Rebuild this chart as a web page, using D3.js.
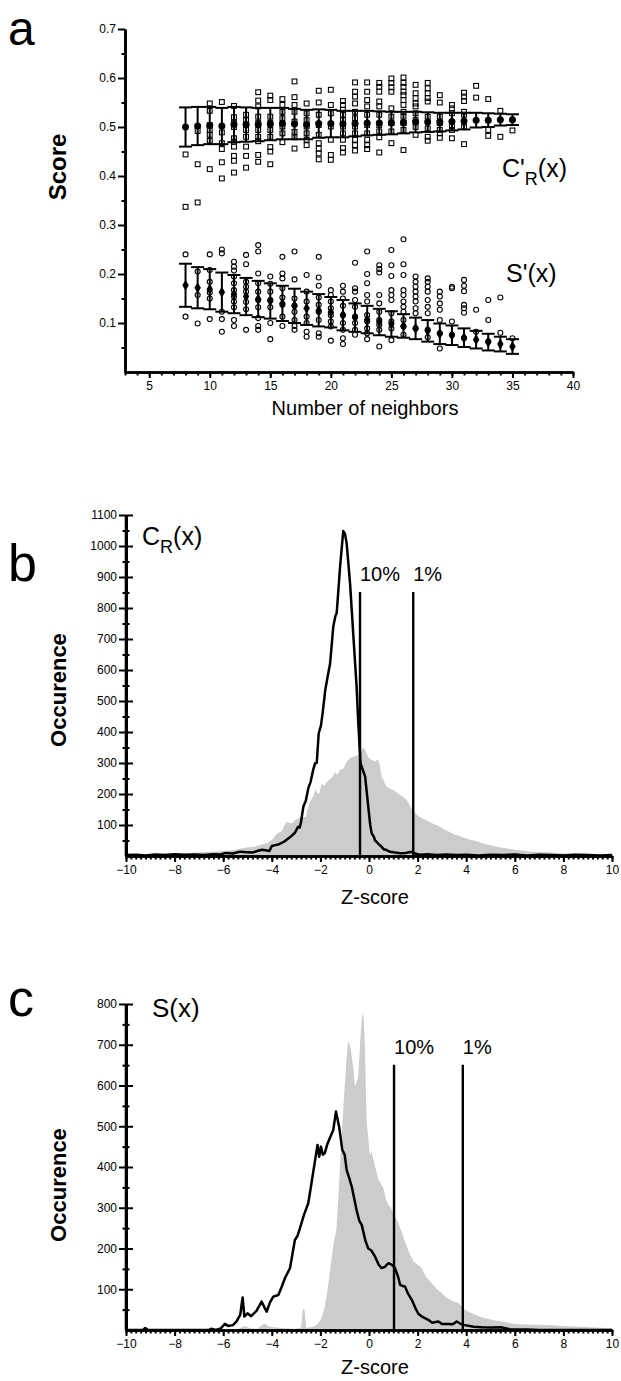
<!DOCTYPE html>
<html>
<head>
<meta charset="utf-8">
<script src="https://cdn.jsdelivr.net/npm/d3@7"></script>
<style>
  body { margin: 0; background: #fff; }
  svg { display: block; font-family: Arial, "Liberation Sans", sans-serif; }
</style>
</head>
<body>
<svg id="fig" width="621" height="1381"></svg>
<script>
// ---- panel a : scores vs number of neighbors
const NEIGHBORS = [8, 9, 10, 11, 12, 13, 14, 15, 16, 17, 18, 19, 20, 21, 22, 23, 24, 25, 26, 27, 28, 29, 30, 31, 32, 33, 34, 35]
const C_MEAN = [0.500, 0.502, 0.503, 0.502, 0.505, 0.505, 0.505, 0.506, 0.507, 0.506, 0.505, 0.507, 0.507, 0.506,
  0.507, 0.508, 0.508, 0.508, 0.509, 0.510, 0.510, 0.510, 0.511, 0.512, 0.514, 0.514, 0.515, 0.515]
const C_SD = [0.040, 0.039, 0.038, 0.037, 0.036, 0.035, 0.034, 0.033, 0.032, 0.031, 0.030, 0.029, 0.028, 0.027,
  0.026, 0.025, 0.024, 0.023, 0.022, 0.021, 0.020, 0.019, 0.018, 0.017, 0.015, 0.014, 0.012, 0.011]
const S_MEAN = [0.177, 0.172, 0.169, 0.163, 0.159, 0.154, 0.149, 0.145, 0.140, 0.135, 0.130, 0.126, 0.122, 0.116,
  0.111, 0.107, 0.102, 0.098, 0.094, 0.089, 0.084, 0.078, 0.075, 0.070, 0.066, 0.061, 0.057, 0.052]
const S_SD = [0.044, 0.042, 0.041, 0.040, 0.039, 0.038, 0.037, 0.036, 0.036, 0.035, 0.034, 0.033, 0.031, 0.031,
  0.029, 0.028, 0.027, 0.026, 0.024, 0.022, 0.022, 0.021, 0.020, 0.019, 0.018, 0.017, 0.015, 0.015]
// individual scores, one list per neighbor count
const C_POINTS = [
  [0.444, 0.337],
  [0.492, 0.424, 0.346],
  [0.548, 0.533, 0.504, 0.494, 0.484, 0.472, 0.414],
  [0.551, 0.489, 0.467, 0.455, 0.428, 0.395],
  [0.543, 0.52, 0.508, 0.5, 0.477, 0.47, 0.46, 0.441, 0.431, 0.407],
  [0.525, 0.514, 0.504, 0.494, 0.48, 0.46, 0.441, 0.417],
  [0.571, 0.554, 0.542, 0.521, 0.508, 0.494, 0.48, 0.471, 0.443, 0.429],
  [0.564, 0.555, 0.521, 0.508, 0.494, 0.48, 0.459, 0.45, 0.424],
  [0.557, 0.545, 0.531, 0.518, 0.501, 0.487, 0.469],
  [0.593, 0.561, 0.545, 0.531, 0.511, 0.49, 0.479, 0.456],
  [0.548, 0.528, 0.514, 0.501, 0.487, 0.474, 0.463],
  [0.574, 0.55, 0.525, 0.504, 0.484, 0.467, 0.456, 0.446, 0.434],
  [0.576, 0.545, 0.528, 0.501, 0.474, 0.443, 0.433],
  [0.553, 0.545, 0.535, 0.525, 0.514, 0.501, 0.487, 0.474, 0.457, 0.448],
  [0.591, 0.572, 0.562, 0.548, 0.531, 0.518, 0.501, 0.487, 0.474, 0.463, 0.452],
  [0.591, 0.572, 0.555, 0.542, 0.525, 0.504, 0.487, 0.474, 0.463, 0.455],
  [0.59, 0.582, 0.572, 0.552, 0.542, 0.525, 0.504, 0.491, 0.479, 0.448],
  [0.599, 0.59, 0.581, 0.572, 0.538, 0.521, 0.508, 0.491, 0.467],
  [0.601, 0.59, 0.582, 0.572, 0.565, 0.555, 0.545, 0.531, 0.521, 0.508, 0.494, 0.453],
  [0.586, 0.569, 0.559, 0.548, 0.542, 0.528, 0.514, 0.5, 0.484],
  [0.59, 0.579, 0.569, 0.559, 0.552, 0.521, 0.497, 0.48, 0.472],
  [0.565, 0.55, 0.521, 0.508, 0.494, 0.487, 0.478],
  [0.545, 0.538, 0.528, 0.502, 0.494, 0.477],
  [0.57, 0.562, 0.553, 0.531, 0.525, 0.5, 0.465],
  [0.584, 0.56],
  [0.557, 0.494, 0.482],
  [0.533, 0.48],
  [0.493],
]
const S_POINTS = [
  [0.24, 0.113],
  [0.205, 0.157, 0.099],
  [0.24, 0.208, 0.184, 0.162, 0.15, 0.108],
  [0.25, 0.242, 0.123, 0.108, 0.082],
  [0.225, 0.215, 0.207, 0.195, 0.181, 0.167, 0.154, 0.144, 0.132, 0.106, 0.094],
  [0.239, 0.22, 0.184, 0.174, 0.164, 0.143, 0.128, 0.086],
  [0.259, 0.246, 0.201, 0.181, 0.164, 0.147, 0.132, 0.11, 0.094, 0.086],
  [0.195, 0.18, 0.164, 0.147, 0.132, 0.1, 0.067],
  [0.235, 0.201, 0.191, 0.171, 0.152, 0.137, 0.113, 0.094],
  [0.246, 0.189, 0.15, 0.135, 0.123, 0.106, 0.094, 0.086],
  [0.198, 0.164, 0.144, 0.113, 0.1, 0.082, 0.072],
  [0.235, 0.193, 0.176, 0.152, 0.137, 0.123, 0.106, 0.079, 0.072],
  [0.167, 0.157, 0.144, 0.13, 0.116, 0.103, 0.093, 0.064],
  [0.176, 0.164, 0.15, 0.135, 0.116, 0.1, 0.086, 0.069, 0.057],
  [0.223, 0.171, 0.164, 0.147, 0.133, 0.113, 0.1, 0.086, 0.076],
  [0.246, 0.2, 0.181, 0.157, 0.144, 0.116, 0.103, 0.089, 0.079, 0.067],
  [0.218, 0.21, 0.203, 0.157, 0.14, 0.123, 0.106, 0.096, 0.086, 0.052],
  [0.249, 0.218, 0.196, 0.167, 0.157, 0.147, 0.12, 0.103, 0.089, 0.065],
  [0.271, 0.22, 0.198, 0.167, 0.157, 0.144, 0.133, 0.123, 0.106, 0.093, 0.076],
  [0.195, 0.184, 0.174, 0.164, 0.154, 0.144, 0.13, 0.12, 0.089],
  [0.191, 0.184, 0.174, 0.164, 0.147, 0.133, 0.12, 0.086, 0.071],
  [0.164, 0.154, 0.14, 0.127, 0.106, 0.079, 0.048],
  [0.174, 0.171, 0.103, 0.076],
  [0.188, 0.176, 0.165, 0.137, 0.13, 0.121, 0.069],
  [0.127, 0.082],
  [0.147, 0.106, 0.062],
  [0.152, 0.08],
  [0.069],
]
const A_X_TICKS = [5, 10, 15, 20, 25, 30, 35, 40]
const A_Y_TICKS = [0.1, 0.2, 0.3, 0.4, 0.5, 0.6, 0.7]

// ---- panel b : C_R(x) z-score histogram, [z, count]
const CR_REAL = [[-10, 3], [-9.6, 4], [-9.2, 2], [-8.8, 5], [-8.4, 3], [-8, 6], [-7.6, 4], [-7.2, 5], [-6.8, 3], [-6.4, 6],
  [-6.1, 5], [-5.9, 10], [-5.6, 8], [-5.3, 14], [-5.0, 12], [-4.8, 11], [-4.6, 16], [-4.4, 20], [-4.2, 18], [-4.1, 16],
  [-4.0, 32], [-3.85, 35], [-3.7, 38], [-3.5, 46], [-3.35, 55], [-3.2, 64], [-3.05, 75], [-2.92, 94], [-2.85, 92],
  [-2.8, 108], [-2.7, 160], [-2.6, 178], [-2.5, 218], [-2.4, 240], [-2.3, 277], [-2.22, 299], [-2.15, 300], [-2.07, 396],
  [-1.98, 420], [-1.91, 460], [-1.8, 535], [-1.7, 580], [-1.6, 621], [-1.47, 740], [-1.38, 775], [-1.33, 783],
  [-1.19, 933], [-1.06, 1048], [-0.99, 1040], [-0.92, 1009], [-0.78, 880], [-0.65, 718], [-0.51, 546], [-0.44, 428],
  [-0.35, 300], [-0.3, 288], [-0.16, 256], [-0.03, 159], [0.05, 100], [0.11, 73], [0.2, 62], [0.25, 50], [0.31, 46],
  [0.4, 38], [0.52, 30], [0.6, 22], [0.7, 20], [0.86, 14], [1.0, 12], [1.28, 9], [1.5, 10], [1.76, 14], [1.9, 8],
  [2.07, 4], [2.4, 6], [2.8, 3], [3.2, 5], [3.6, 3], [4.0, 4], [4.5, 2], [5, 4], [5.5, 3], [6, 5], [6.5, 2], [7, 4],
  [7.5, 3], [8, 2], [8.5, 4], [9, 3], [9.5, 2], [10, 3]]
const CR_RANDOM = [[-10, 6], [-9.5, 7], [-9, 5], [-8.5, 8], [-8, 9], [-7.5, 8], [-7, 12], [-6.5, 13], [-6, 16], [-5.5, 20],
  [-5, 28], [-4.7, 30], [-4.5, 35], [-4.2, 42], [-4.0, 52], [-3.8, 72], [-3.6, 80], [-3.4, 110], [-3.2, 105], [-3.0, 118],
  [-2.8, 125], [-2.6, 127], [-2.5, 160], [-2.4, 180], [-2.3, 191], [-2.2, 215], [-2.1, 200], [-2.05, 202], [-1.95, 235],
  [-1.85, 225], [-1.78, 234], [-1.65, 245], [-1.5, 256], [-1.4, 270], [-1.3, 262], [-1.2, 277], [-1.05, 282], [-0.95, 300],
  [-0.86, 310], [-0.75, 318], [-0.65, 320], [-0.55, 322], [-0.44, 326], [-0.35, 340], [-0.23, 350], [-0.15, 340],
  [-0.1, 331], [0.0, 315], [0.11, 310], [0.25, 305], [0.38, 312], [0.45, 290], [0.52, 256], [0.62, 240], [0.72, 224],
  [0.85, 218], [1.0, 213], [1.15, 205], [1.28, 197], [1.4, 190], [1.56, 181], [1.7, 160], [1.8, 148], [1.95, 135],
  [2.07, 127], [2.3, 118], [2.62, 105], [2.9, 95], [3.1, 85], [3.3, 78], [3.5, 70], [3.7, 65], [3.98, 57], [4.2, 52],
  [4.4, 48], [4.67, 41], [4.9, 36], [5.1, 32], [5.36, 28], [5.7, 24], [6.0, 20], [6.4, 17], [6.7, 14], [7.0, 13],
  [7.5, 11], [8.1, 9], [8.5, 8], [9, 7], [9.5, 6], [10, 5]]
const B_CUTS = [{ label: '10%', z: -0.37, top: 852 }, { label: '1%', z: 1.82, top: 852 }]
const B_Y_TICKS = [100, 200, 300, 400, 500, 600, 700, 800, 900, 1000, 1100]

// ---- panel c : S(x) z-score histogram, [z, count]
const S_REAL = [[-10, 0], [-9.3, 0], [-9.21, 5], [-9.1, 0], [-6.6, 0], [-6.5, 3], [-6.3, 0], [-6.1, 4], [-5.93, 15],
  [-5.8, 10], [-5.6, 12], [-5.45, 21], [-5.3, 37], [-5.2, 80], [-5.13, 33], [-5.0, 41], [-4.85, 34], [-4.63, 47],
  [-4.42, 70], [-4.3, 55], [-4.21, 45], [-4.08, 67], [-3.94, 82], [-3.73, 86], [-3.6, 105], [-3.46, 127], [-3.25, 152],
  [-3.05, 221], [-2.95, 230], [-2.84, 250], [-2.68, 282], [-2.5, 311], [-2.4, 348], [-2.26, 401], [-2.12, 454],
  [-2.05, 425], [-1.98, 450], [-1.9, 430], [-1.82, 434], [-1.72, 455], [-1.61, 471], [-1.47, 491], [-1.36, 536],
  [-1.23, 499], [-1.1, 442], [-1.0, 430], [-0.92, 393], [-0.8, 370], [-0.71, 352], [-0.6, 320], [-0.51, 294],
  [-0.4, 268], [-0.3, 258], [-0.15, 220], [-0.03, 200], [0.1, 195], [0.25, 180], [0.4, 160], [0.52, 152], [0.65, 155],
  [0.8, 164], [0.95, 160], [1.07, 152], [1.2, 130], [1.28, 111], [1.38, 108], [1.48, 107], [1.6, 90], [1.76, 74],
  [1.9, 55], [2.03, 40], [2.2, 32], [2.44, 25], [2.6, 18], [2.85, 21], [3.0, 15], [3.26, 15], [3.45, 14], [3.61, 21],
  [3.8, 14], [3.95, 12], [4.3, 8], [4.64, 6.5], [5.0, 6], [5.46, 6.5], [5.8, 2], [6.5, 1], [7, 0], [10, 0]]
const S_RANDOM = [[-10, 0], [-5.5, 0], [-5.3, 5], [-5.13, 10], [-4.9, 5], [-4.6, 3], [-4.4, 12], [-4.3, 16], [-4.1, 8],
  [-3.5, 4], [-3.0, 3], [-2.8, 6], [-2.72, 53], [-2.65, 50], [-2.58, 5], [-2.3, 8], [-2.1, 15], [-1.95, 30], [-1.82, 57],
  [-1.7, 100], [-1.55, 172], [-1.45, 215], [-1.34, 246], [-1.25, 340], [-1.16, 434], [-1.08, 520], [-1.0, 598],
  [-0.93, 660], [-0.86, 709], [-0.79, 700], [-0.71, 672], [-0.64, 640], [-0.58, 598], [-0.5, 610], [-0.44, 623],
  [-0.37, 700], [-0.3, 762], [-0.23, 781], [-0.17, 700], [-0.1, 516], [0.04, 426], [0.1, 440], [0.18, 418], [0.3, 390],
  [0.38, 369], [0.48, 360], [0.59, 348], [0.7, 320], [0.8, 307], [0.9, 300], [1.0, 287], [1.1, 275], [1.21, 262],
  [1.35, 240], [1.48, 217], [1.65, 190], [1.83, 168], [2.0, 160], [2.17, 152], [2.35, 130], [2.58, 115], [2.8, 100],
  [3.0, 90], [3.13, 82], [3.4, 72], [3.68, 66], [3.95, 50], [4.23, 41], [4.6, 32], [5.05, 25], [5.5, 20], [6.01, 15],
  [6.7, 13], [7.38, 12], [8, 10], [8.75, 8], [9.3, 6], [10, 4]]
const C_CUTS = [{ label: '10%', z: 1.03, top: 651 }, { label: '1%', z: 3.86, top: 651 }]
const C_Y_TICKS = [100, 200, 300, 400, 500, 600, 700, 800]
const Z_TICKS = [-10, -8, -6, -4, -2, 0, 2, 4, 6, 8, 10]

const svg = d3.select('#fig')

const xA = d3.scaleLinear().domain([3, 40]).range([125, 573])
const yA = d3.scaleLinear().domain([0, 0.7]).range([372, 29])
const xZ = d3.scaleLinear().domain([-10, 10]).range([126, 612])
const yB = d3.scaleLinear().domain([0, 1100]).range([856, 515])
const yC = d3.scaleLinear().domain([0, 800]).range([1330, 1004])

const styleAxis = g => {
  g.select('.domain').attr('stroke-width', 2.6).attr('stroke', '#000')
  g.selectAll('.tick line').attr('stroke-width', 2)
  g.selectAll('.tick text').attr('font-size', 12).attr('fill', '#000').attr('font-family', 'Arial, "Liberation Sans", sans-serif')
}
const minorAxis = (axis, values, size) =>
  axis.tickValues(values).tickSize(size).tickSizeOuter(0).tickFormat('')

const label = (x, y, txt, size, opts = {}) =>
  svg.append('text').attr('x', x).attr('y', y).attr('font-size', size)
    .attr('font-weight', opts.bold ? 'bold' : null)
    .attr('text-anchor', opts.anchor || 'start')
    .attr('transform', opts.rotate ? `rotate(-90 ${x} ${y})` : null)
    .text(txt)

// curve name with optional prime and subscript
const curveLabel = (x, y, main, prime, sub, size) => {
  const t = svg.append('text').attr('x', x).attr('y', y).attr('font-size', size)
  t.append('tspan').text(main + (prime ? "'" : ''))
  if (sub) t.append('tspan').attr('font-size', size * 0.72).attr('dy', size * 0.3).text(sub)
  t.append('tspan').attr('dy', sub ? -size * 0.3 : 0).text('(x)')
}

// ================= panel a
const gA = svg.append('g')
const colA = NEIGHBORS.map((n, i) => ({ n, cm: C_MEAN[i], cs: C_SD[i], sm: S_MEAN[i], ss: S_SD[i], cp: C_POINTS[i], sp: S_POINTS[i] }))

gA.selectAll('rect.cpt')
  .data(colA.flatMap(d => d.cp.map(v => ({ n: d.n, v }))))
  .join('rect')
  .attr('x', d => xA(d.n) - 2.4).attr('y', d => yA(d.v) - 2.4)
  .attr('width', 4.8).attr('height', 4.8)
  .attr('fill', 'none').attr('stroke', '#000').attr('stroke-width', 1.1)

gA.selectAll('circle.spt')
  .data(colA.flatMap(d => d.sp.map(v => ({ n: d.n, v }))))
  .join('circle')
  .attr('cx', d => xA(d.n)).attr('cy', d => yA(d.v)).attr('r', 2.5)
  .attr('fill', 'none').attr('stroke', '#000').attr('stroke-width', 1.1)

const errorBars = (mean, sd) => {
  const g = gA.append('g').attr('stroke', '#000').attr('stroke-width', 2)
  g.selectAll('line.v').data(colA).join('line')
    .attr('x1', d => xA(d.n)).attr('x2', d => xA(d.n))
    .attr('y1', d => yA(d[mean] + d[sd])).attr('y2', d => yA(d[mean] - d[sd]))
  for (const sign of [1, -1]) {
    g.selectAll(null).data(colA).join('line')
      .attr('x1', d => xA(d.n) - 6.5).attr('x2', d => xA(d.n) + 6.5)
      .attr('y1', d => yA(d[mean] + sign * d[sd])).attr('y2', d => yA(d[mean] + sign * d[sd]))
  }
}
errorBars('cm', 'cs')
errorBars('sm', 'ss')

gA.selectAll('circle.cm').data(colA).join('circle')
  .attr('cx', d => xA(d.n)).attr('cy', d => yA(d.cm)).attr('r', 3.5).attr('fill', '#000')
gA.selectAll('path.sm').data(colA).join('path')
  .attr('d', d3.symbol(d3.symbolDiamond, 36))
  .attr('transform', d => `translate(${xA(d.n)},${yA(d.sm)})`).attr('fill', '#000')

const axAx = gA.append('g').attr('transform', 'translate(0,372)')
axAx.append('g').call(minorAxis(d3.axisBottom(xA), d3.range(3, 41), 3.5)).call(styleAxis)
axAx.append('g').call(d3.axisBottom(xA).tickValues(A_X_TICKS).tickSize(6).tickSizeOuter(0).tickPadding(3)).call(styleAxis)
const axAy = gA.append('g').attr('transform', 'translate(125,0)')
axAy.append('g').call(minorAxis(d3.axisLeft(yA), d3.range(0.05, 0.7, 0.1), 3.5)).call(styleAxis)
axAy.append('g').call(d3.axisLeft(yA).tickValues(A_Y_TICKS).tickSize(7).tickSizeOuter(0).tickPadding(2).tickFormat(d3.format('.1f'))).call(styleAxis)

label(8, 45, 'a', 48)
label(66, 167, 'Score', 24, { bold: true, rotate: true, anchor: 'middle' })
label(365, 415, 'Number of neighbors', 20, { anchor: 'middle' })
curveLabel(502, 177, 'C', true, 'R', 25)
curveLabel(506, 282, 'S', true, null, 25)

// ================= histogram panels
const histPanel = (yS, real, rand, cuts, yTicks, top) => {
  const g = svg.append('g')
  g.append('path').datum(rand)
    .attr('d', d3.area().x(d => xZ(d[0])).y0(yS(0)).y1(d => yS(d[1])))
    .attr('fill', '#cccccc')
  g.append('path').datum(real)
    .attr('d', d3.line().x(d => xZ(d[0])).y(d => yS(d[1])))
    .attr('fill', 'none').attr('stroke', '#000').attr('stroke-width', 2.5).attr('stroke-linejoin', 'round')
  g.selectAll('line.cut').data(cuts).join('line')
    .attr('x1', d => xZ(d.z)).attr('x2', d => xZ(d.z))
    .attr('y1', yS(0)).attr('y2', d => yS(d.top))
    .attr('stroke', '#000').attr('stroke-width', 2.4)
  g.selectAll('text.cut').data(cuts).join('text')
    .attr('x', d => xZ(d.z)).attr('y', d => yS(d.top) - 11)
    .attr('font-size', 20).text(d => d.label)

  const bottom = yS(0)
  const ax = g.append('g').attr('transform', `translate(0,${bottom})`)
  ax.append('g').call(minorAxis(d3.axisBottom(xZ), d3.range(-100, 101, 2).map(v => v / 10), 3.5)).call(styleAxis)
  ax.append('g').call(d3.axisBottom(xZ).tickValues(Z_TICKS).tickSize(6).tickSizeOuter(0).tickPadding(3)).call(styleAxis)
  const minors = yTicks.map(v => v - 50)
  const ay = g.append('g').attr('transform', 'translate(126,0)')
  ay.append('g').call(minorAxis(d3.axisLeft(yS), minors, 3.5)).call(styleAxis)
  ay.append('g').call(minorAxis(d3.axisRight(yS), minors, 3.5)).call(styleAxis)
  ay.append('g').call(minorAxis(d3.axisRight(yS), yTicks, 7)).call(styleAxis)
  ay.append('g').call(d3.axisLeft(yS).tickValues(yTicks).tickSize(7).tickSizeOuter(0).tickPadding(2).tickFormat(d3.format('d'))).call(styleAxis)
  ay.select('.domain').attr('d', `M0,${bottom}V${yS(top)}`)
  return bottom
}

const bB = histPanel(yB, CR_REAL, CR_RANDOM, B_CUTS, B_Y_TICKS, 1100)
label(8, 581, 'b', 52)
label(66, 690, 'Occurence', 22, { bold: true, rotate: true, anchor: 'middle' })
label(375, bB + 48, 'Z-score', 20, { anchor: 'middle' })
curveLabel(142, 545, 'C', false, 'R', 25)

const bC = histPanel(yC, S_REAL, S_RANDOM, C_CUTS, C_Y_TICKS, 800)
label(8, 1016, 'c', 52)
label(66, 1185, 'Occurence', 22, { bold: true, rotate: true, anchor: 'middle' })
label(375, bC + 44, 'Z-score', 20, { anchor: 'middle' })
curveLabel(152, 1017, 'S', false, null, 26)
</script>
</body>
</html>
